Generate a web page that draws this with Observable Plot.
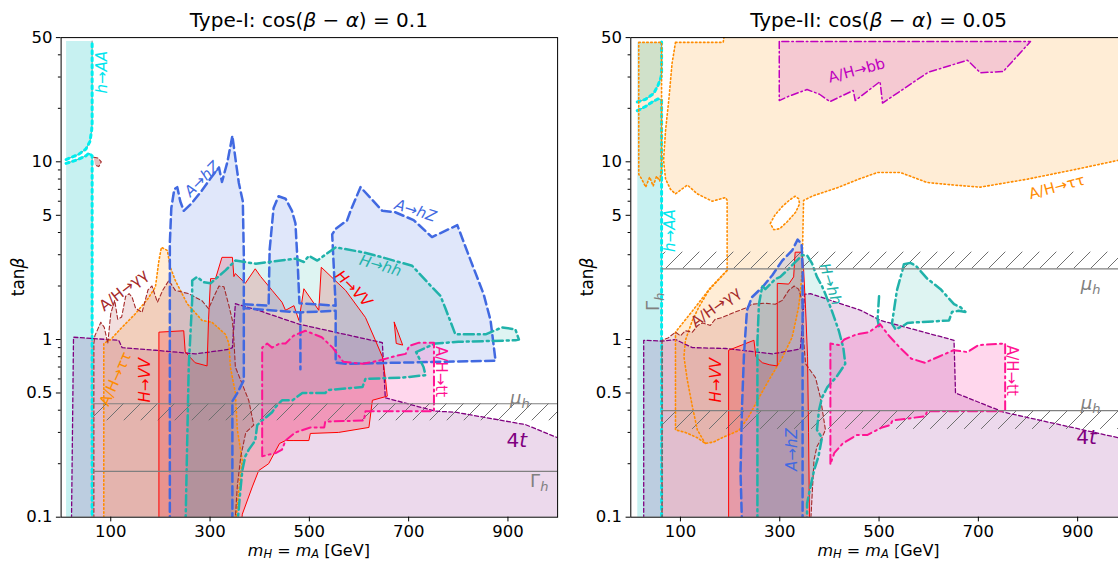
<!DOCTYPE html>
<html><head><meta charset="utf-8">
<script src="https://cdn.jsdelivr.net/npm/d3@7"></script>
<script src="https://cdn.jsdelivr.net/npm/@observablehq/plot@0.6"></script>
<style>
body{margin:0;background:#fff;}
#wrap{position:relative;width:1118px;height:563px;overflow:hidden;}
#wrap svg{position:absolute;top:0;}
</style></head><body><div id="wrap"></div><script>
const FONT = '"DejaVu Sans", sans-serif';
const X_TICKS = [100,300,500,700,900];
const Y_TICKS = [0.1,0.5,1,5,10,50];
const Y_MINOR = [0.2,0.3,0.4,0.6,0.7,0.8,0.9,2,3,4,6,7,8,9,20,30,40];

// ---------- Type-I ----------
const T1_HAA_LINE_UP = [[10,10.3],[35,11],[50,11.8],[58,13],[61.5,15],[62.5,16.5],[62.5,47.8]];
const T1_HAA_CORNER_UP = [[10,47.8]];
const T1_HAA_LINE_LO = [[10,9.8],[30,10.2],[50,10.8],[56,11.2],[62.5,10.8],[62.5,0.09]];
const T1_HAA_CORNER_LO = [[10,0.09]];
const T1_4T = [[21,0.09],[21,0.1],[25,1.03],[116,0.99],[123,0.90],[190,0.87],[271,0.83],[338,0.88],[345,0.9],[351,1.59],[400,1.45],[479,1.22],[647,0.96],[653,0.47],[754,0.395],[794,0.39],[935,0.332],[1000,0.28],[1010,0.275],[1010,0.09]];
const T1_TAUTAU = [[86,0.09],[86,0.95],[100,1.0],[120,1.15],[150,1.4],[175,1.7],[190,1.98],[197,2.78],[202,3.3],[214,3.17],[220,2.55],[230,2.15],[254,1.59],[284,1.28],[304,1.25],[331,1.07],[338,0.95],[341,0.70],[351,0.50],[355,0.31],[365,0.208],[361,0.17],[351,0.09]];
const T1_GAGA = [[66,0.09],[66,0.95],[68,1.05],[80,1.25],[87,1.17],[94,0.95],[100,1.4],[108,1.66],[114,1.3],[122,1.34],[130,1.75],[137,1.81],[143,1.73],[150,1.5],[163,1.42],[175,1.9],[183,2.0],[194,1.62],[205,1.9],[217,2.15],[230,1.89],[257,1.81],[284,1.65],[297,1.49],[310,1.8],[318,2.0],[328,1.98],[338,1.55],[345,1.28],[348,1.0],[351,0.70],[365,0.56],[378,0.454],[388,0.33],[372,0.30],[362,0.22],[355,0.15],[350,0.09]];
const T1_GAGA_BLOB = [[66,10.6],[74,10.5],[81,10.0],[76,9.4],[68,9.6]];
const T1_HVV = [[197,0.09],[197,1.1],[247,1.12],[250,0.85],[270,0.74],[294,0.71],[297,1.3],[301,2.2],[311,2.2],[324,2.9],[345,2.9],[348,2.26],[351,2.35],[371,2.07],[391,2.5],[402,2.26],[425,1.89],[445,1.62],[452,1.46],[469,1.55],[479,1.28],[489,1.93],[519,1.46],[524,2.55],[573,1.89],[613,1.33],[633,0.99],[647,0.80],[653,0.61],[657,0.48],[627,0.455],[620,0.32],[559,0.30],[502,0.296],[499,0.27],[469,0.27],[452,0.27],[440,0.26],[418,0.2],[398,0.183],[385,0.148],[365,0.104],[363,0.09]];
const T1_HVV_TRI = [[671,1.25],[675,0.95],[688,0.93],[671,1.25]];
const T1_AHZ_A = [[219,0.09],[219,3.5],[222,5.5],[228,7.0],[234,7.2],[240,6.0],[247,5.3],[262,5.8],[282,6.8],[300,8.0],[318,9.3],[324,7.7],[335,10],[345,14],[352,10],[358,7.6],[366,6.0],[368,3.0],[368,0.59],[355,0.5],[345,0.45],[345,0.09]];
const T1_AHZ_B = [[368,1.58],[418,1.55],[420,3.2],[428,5.5],[438,6.4],[452,6.2],[465,5.3],[472,4.5],[477,2.5],[480,1.6],[553,1.55],[548,3.0],[546,3.9],[553,4.2],[576,4.68],[583,5.3],[603,7.2],[647,5.3],[673,5.2],[710,4.7],[747,3.77],[798,4.4],[825,2.78],[851,1.8],[865,1.28],[875,0.76],[573,0.73],[553,0.74],[553,1.45],[482,1.42],[368,1.50]];
const T1_AHZ_C = [[482,1.42],[482,0.68]];
const T1_HHH = [[250.6,0.09],[257,0.7],[264,1.66],[264,2.15],[274,2.25],[287,2.1],[301,2.07],[331,2.45],[351,2.78],[392,2.67],[418,2.73],[472,2.85],[489,2.73],[499,2.96],[516,2.78],[539,3.1],[553,3.3],[607,3.1],[647,2.9],[707,2.6],[747,1.97],[764,1.76],[774,1.5],[794,1.07],[855,1.07],[888,1.17],[915,1.14],[922,1.0],[915,0.99],[800,0.97],[754,0.95],[715,0.85],[730,0.7],[734,0.63],[687,0.61],[613,0.60],[607,0.54],[539,0.52],[532,0.5],[486,0.5],[466,0.455],[445,0.455],[433,0.42],[425,0.39],[405,0.35],[395,0.33],[391,0.27],[378,0.24],[371,0.22],[365,0.183],[361,0.141],[355,0.09]];
const T1_TT = [[405,0.22],[405,0.90],[415,0.95],[425,0.9],[440,0.95],[452,0.95],[468,1.05],[492,1.12],[525,1.03],[547,0.90],[568,0.75],[607,0.73],[640,0.76],[675,0.81],[694,0.83],[701,0.92],[721,0.96],[751,0.96],[751,0.395],[613,0.395],[610,0.35],[532,0.345],[530,0.32],[502,0.32],[472,0.30],[452,0.27],[445,0.24],[433,0.23],[418,0.225],[405,0.22]];
const T1_MUH_LINE = [[65,0.435],[1010,0.435]];
const T1_MUH_BAND = [[65,1010,0.349,0.435]];
const T1_GAMMAH_LINE = [[65,0.181],[1010,0.181]];

// ---------- Type-II ----------
const T2_HAA_LINE_UP = [[13,21.7],[30,22.5],[46,24.2],[55,27],[61,30],[62,32],[62,47.3]];
const T2_HAA_CORNER_UP = [[13,47.3]];
const T2_HAA_LINE_LO = [[13,19.4],[30,20.5],[43,21.7],[55,22.6],[62,22.3],[62,0.09]];
const T2_HAA_CORNER_LO = [[13,0.09]];
const T2_TAU_STRIP = [[16,47],[62,47],[62,9],[58,7.8],[52,8.3],[45,7.3],[38,8.2],[30,7.2],[22,8.0],[16,8.5],[16,47]];
const T2_TAUTAU = [[90,47],[186,47],[190,55],[1010,55],[1010,10.6],[1000,10.5],[982,10.2],[899,9.1],[798,7.98],[704,7.2],[650,7.4],[597,7.65],[543,8.7],[496,8.7],[459,7.98],[419,7.2],[365,6.4],[348,6.06],[345,2.45],[342,1.89],[338,1.52],[325,1.03],[305,0.79],[278,0.59],[258,0.47],[238,0.37],[218,0.308],[184,0.28],[167,0.265],[150,0.26],[134,0.28],[110,0.30],[90,0.31],[90,1.1],[120,1.4],[160,1.95],[194,2.45],[194,6.06],[191,6.3],[164,6.0],[134,6.6],[114,7.4],[90,6.6],[80,7.0],[70,8.0],[66,10.2],[70,15],[77,23],[83,35.6],[90,47]];
const T2_TAU_INNER = [[194,2.45],[157,1.89],[137,1.52],[124,1.28],[110,0.99],[107,0.80],[114,0.588],[124,0.42],[134,0.31],[150,0.26]];
const T2_TAU_HOLE = [[281,4.5],[290,5.0],[305,5.6],[320,6.1],[331,6.4],[338,6.2],[340,5.8],[332,5.2],[315,4.6],[300,4.2],[288,4.15],[281,4.5]];
const T2_BB = [[299,47.5],[299,22.1],[320,23.5],[355,25.5],[380,24],[401,21.8],[448,25.2],[452,22.1],[502,28.3],[507,21.4],[599,31.9],[678,37.3],[704,31.7],[750,32.2],[805,47.5],[299,47.5]];
const T2_4T = [[26,0.09],[26,0.99],[63,0.98],[90,1.0],[124,0.90],[191,0.89],[224,0.87],[285,0.83],[338,0.88],[342,0.9],[350,1.8],[362,1.81],[463,1.46],[503,1.28],[651,0.99],[654,0.50],[751,0.39],[982,0.28],[1010,0.27],[1010,0.09]];
const T2_GAGA = [[63,0.09],[63,0.99],[75,1.02],[90,1.1],[100,1.05],[110,1.12],[124,1.1],[135,1.2],[144,1.24],[160,1.2],[170,1.3],[184,1.33],[211,1.43],[230,1.5],[244,1.58],[270,1.6],[291,1.58],[305,1.66],[318,1.89],[329,2.0],[338,1.92],[345,1.66],[348,1.0],[352,0.73],[372,0.61],[382,0.47],[392,0.31],[385,0.28],[375,0.25],[369,0.21],[362,0.09]];
const T2_HVV = [[197,0.09],[197,0.87],[248,0.99],[252,0.8],[265,0.74],[280,0.72],[295,0.71],[295,2.07],[318,2.05],[328,2.25],[331,3.1],[345,3.1],[348,2.5],[352,1.5],[356,0.8],[358,0.3],[360,0.09]];
const T2_AHZ = [[224,0.09],[221,0.18],[224,0.42],[228,0.83],[234,1.46],[244,1.73],[265,1.97],[285,2.3],[305,2.78],[325,3.17],[336,3.65],[344,3.45],[346,2.5],[346,0.09]];
const T2_HHH = [[255,0.09],[255,0.42],[255,0.97],[258,1.58],[265,2.0],[271,1.92],[291,2.19],[301,2.25],[318,2.5],[345,2.98],[355,2.98],[365,2.68],[375,2.25],[385,2.0],[392,1.8],[405,1.45],[419,1.12],[428,0.9],[432,0.73],[415,0.62],[396,0.54],[385,0.47],[379,0.40],[375,0.31],[385,0.28],[378,0.22],[369,0.183],[360,0.14],[355,0.119],[355,0.09]];
const T2_HHH_ISLAND = [[550,2.65],[563,2.7],[574,2.6],[597,2.2],[624,1.92],[651,1.58],[664,1.52],[674,1.43],[660,1.45],[647,1.43],[641,1.28],[557,1.24],[550,1.2],[533,1.14],[526,1.23],[529,1.4],[536,1.89],[547,2.45],[550,2.65]];
const T2_HHH_TAIL = [[500,1.75],[497,1.3],[500,1.18],[506,1.18]];
const T2_TT = [[402,0.2],[402,0.95],[419,0.93],[430,1.0],[455,1.07],[480,1.1],[502,1.22],[520,1.05],[542,0.90],[565,0.78],[592,0.74],[620,0.8],[650,0.87],[678,0.85],[700,0.93],[754,0.95],[754,0.395],[597,0.395],[593,0.37],[527,0.35],[523,0.33],[506,0.32],[476,0.29],[455,0.29],[427,0.26],[410,0.23],[405,0.21],[402,0.2]];
const T2_MUH_LO_LINE = [[62,0.398],[1010,0.398]];
const T2_MUH_LO_BAND = [[62,1010,0.312,0.398]];
const T2_MUH_HI_LINE = [[62,2.5],[1010,2.5]];
const T2_MUH_HI_BAND = [[62,1010,2.5,3.1]];

// labels
const T1_LABELS = [
  {x:83,y:31.9,text:"h→AA",color:"#00e5ee",rotate:-90,italic:true},
  {x:284,y:8.0,text:"A→hZ",color:"royalblue",rotate:-45,italic:true},
  {x:714,y:5.3,text:"A→hZ",color:"royalblue",rotate:18,italic:true},
  {x:643,y:2.6,text:"H→hh",color:"lightseagreen",rotate:16,italic:true},
  {x:589,y:1.93,text:"H→VV",color:"red",rotate:45,italic:true},
  {x:126,y:1.89,text:"A/H→γγ",color:"brown",rotate:-38,italic:false},
  {x:110,y:0.60,text:"A/H→ττ",color:"darkorange",rotate:-66,italic:false},
  {x:170,y:0.59,text:"H→VV",color:"red",rotate:-90,italic:true},
  {x:764,y:0.66,text:"A/H→tt",color:"deeppink",rotate:90,italic:false}
];
const T2_LABELS = [
  {x:80,y:4.1,text:"h→AA",color:"#00e5ee",rotate:-90,italic:true},
  {x:455,y:32.6,text:"A/H→bb",color:"#bf00bf",rotate:-15,italic:false},
  {x:858,y:7.2,text:"A/H→ττ",color:"darkorange",rotate:-15,italic:false},
  {x:171,y:1.52,text:"A/H→γγ",color:"brown",rotate:-36,italic:false},
  {x:171,y:0.59,text:"H→VV",color:"red",rotate:-90,italic:true},
  {x:325,y:0.24,text:"A→hZ",color:"royalblue",rotate:-90,italic:true},
  {x:402,y:2.05,text:"H→hh",color:"lightseagreen",rotate:72,italic:true},
  {x:768,y:0.67,text:"A/H→tt",color:"deeppink",rotate:90,italic:false}
];
const T1_SUBLABELS = [
  {x:925,y:0.47,parts:[{t:"μ",i:true},{t:"h",i:true,sub:true}],color:"gray",size:18,rotate:0},
  {x:964,y:0.16,parts:[{t:"Γ"},{t:"h",i:true,sub:true}],color:"gray",size:18,rotate:0},
  {x:919,y:0.27,parts:[{t:"4"},{t:"t",i:true}],color:"purple",size:20,rotate:0}
];
const T2_SUBLABELS = [
  {x:927,y:0.44,parts:[{t:"μ",i:true},{t:"h",i:true,sub:true}],color:"gray",size:18,rotate:0},
  {x:927,y:2.05,parts:[{t:"μ",i:true},{t:"h",i:true,sub:true}],color:"gray",size:18,rotate:0},
  {x:919,y:0.28,parts:[{t:"4"},{t:"t",i:true}],color:"purple",size:20,rotate:0},
  {x:46,y:1.62,parts:[{t:"Γ"},{t:"h",i:true,sub:true}],color:"gray",size:18,rotate:-90}
];

const CYAN="#00eeee", GRAY="#909090";
const T1 = {
  left:0, width:560, marginLeft:60.6, marginRight:2.9, hatchId:"hatchL",
  title:[{t:"Type-I: cos("},{t:"β",i:true},{t:" − "},{t:"α",i:true},{t:") = 0.1"}],
  fills:[
    {pts:T1_HAA_LINE_UP.concat(T1_HAA_CORNER_UP), color:"#00bfbf", op:0.22},
    {pts:T1_HAA_LINE_LO.concat(T1_HAA_CORNER_LO), color:"#00bfbf", op:0.22},
    {pts:T1_4T, color:"purple", op:0.15},
    {pts:T1_TAUTAU, color:"darkorange", op:0.16},
    {pts:T1_GAGA, color:"brown", op:0.15},
    {pts:T1_GAGA_BLOB, color:"brown", op:0.3},
    {pts:T1_HVV, color:"red", op:0.18},
    {pts:T1_HVV_TRI, color:"red", op:0.18},
    {pts:T1_AHZ_A, color:"royalblue", op:0.16},
    {pts:T1_AHZ_B, color:"royalblue", op:0.16},
    {pts:T1_HHH, color:"lightseagreen", op:0.15},
    {pts:T1_TT, color:"deeppink", op:0.17}
  ],
  hatches:[T1_MUH_BAND[0]],
  strokes:[
    {pts:T1_HAA_LINE_UP, color:GRAY, w:1},
    {pts:T1_HAA_LINE_LO, color:GRAY, w:1},
    {pts:T1_HAA_LINE_UP, color:CYAN, w:3, dash:"3,4"},
    {pts:T1_HAA_LINE_LO, color:CYAN, w:3, dash:"3,4"},
    {pts:T1_4T, color:"purple", w:1.3, dash:"4,2.5"},
    {pts:T1_TAUTAU, color:"darkorange", w:1.6, dash:"1.5,2.5"},
    {pts:T1_GAGA, color:"brown", w:1.1, dash:"4,2.5"},
    {pts:T1_GAGA_BLOB, color:"brown", w:1.1, dash:"4,2.5"},
    {pts:T1_HVV, color:"red", w:1},
    {pts:T1_HVV_TRI, color:"red", w:1},
    {pts:T1_AHZ_A, color:"royalblue", w:2.5, dash:"9,4.5"},
    {pts:T1_AHZ_B, color:"royalblue", w:2.5, dash:"9,4.5"},
    {pts:T1_AHZ_C, color:"royalblue", w:2.5, dash:"9,4.5"},
    {pts:T1_HHH, color:"lightseagreen", w:2.5, dash:"10,4,2,4"},
    {pts:T1_TT, color:"deeppink", w:2, dash:"9,4,2,4"},
    {pts:T1_MUH_LINE, color:"#808080", w:1.2},
    {pts:T1_GAMMAH_LINE, color:"#808080", w:1.2}
  ],
  labels:T1_LABELS, sublabels:T1_SUBLABELS
};
const T2 = {
  left:560, width:570, marginLeft:70.3, marginRight:3.2, hatchId:"hatchR",
  title:[{t:"Type-II: cos("},{t:"β",i:true},{t:" − "},{t:"α",i:true},{t:") = 0.05"}],
  fills:[
    {pts:T2_HAA_LINE_UP.concat(T2_HAA_CORNER_UP), color:"#00bfbf", op:0.22},
    {pts:T2_HAA_LINE_LO.concat(T2_HAA_CORNER_LO), color:"#00bfbf", op:0.22},
    {pts:T2_4T, color:"purple", op:0.15},
    {pts:T2_TAUTAU, color:"darkorange", op:0.16},
    {pts:T2_TAU_STRIP, color:"darkorange", op:0.16},
    {pts:T2_TAU_HOLE, color:"white", op:1},
    {pts:T2_GAGA, color:"brown", op:0.15},
    {pts:T2_HVV, color:"red", op:0.18},
    {pts:T2_AHZ, color:"royalblue", op:0.16},
    {pts:T2_HHH, color:"lightseagreen", op:0.15},
    {pts:T2_HHH_ISLAND, color:"lightseagreen", op:0.15},
    {pts:T2_TT, color:"deeppink", op:0.17},
    {pts:T2_BB, color:"#bf00bf", op:0.15}
  ],
  hatches:[T2_MUH_LO_BAND[0], T2_MUH_HI_BAND[0]],
  strokes:[
    {pts:T2_HAA_LINE_UP, color:GRAY, w:1},
    {pts:T2_HAA_LINE_LO, color:GRAY, w:1},
    {pts:T2_HAA_LINE_UP, color:CYAN, w:3, dash:"3,4"},
    {pts:T2_HAA_LINE_LO, color:CYAN, w:3, dash:"3,4"},
    {pts:T2_4T, color:"purple", w:1.3, dash:"4,2.5"},
    {pts:T2_TAUTAU, color:"darkorange", w:1.6, dash:"1.5,2.5"},
    {pts:T2_TAU_STRIP, color:"darkorange", w:1.6, dash:"1.5,2.5"},
    {pts:T2_TAU_INNER, color:"darkorange", w:1.6, dash:"1.5,2.5"},
    {pts:T2_TAU_HOLE, color:"darkorange", w:1.6, dash:"1.5,2.5"},
    {pts:T2_GAGA, color:"brown", w:1.1, dash:"4,2.5"},
    {pts:T2_HVV, color:"red", w:1},
    {pts:T2_AHZ, color:"royalblue", w:2.5, dash:"9,4.5"},
    {pts:T2_HHH, color:"lightseagreen", w:2.5, dash:"10,4,2,4"},
    {pts:T2_HHH_ISLAND, color:"lightseagreen", w:2.5, dash:"10,4,2,4"},
    {pts:T2_HHH_TAIL, color:"lightseagreen", w:2.5, dash:"10,4,2,4"},
    {pts:T2_TT, color:"deeppink", w:2, dash:"9,4,2,4"},
    {pts:T2_BB, color:"#bf00bf", w:1.5, dash:"7,3,1.5,3"},
    {pts:T2_MUH_LO_LINE, color:"#808080", w:1.2},
    {pts:T2_MUH_HI_LINE, color:"#808080", w:1.2}
  ],
  labels:T2_LABELS, sublabels:T2_SUBLABELS
};

function richText(svg, parts, x, y, size, color, rotate, anchor, subShift) {
  const t = d3.select(svg).append("text").attr("x", x).attr("y", y)
    .style("font-size", size + "px").style("font-family", FONT).attr("fill", color)
    .attr("text-anchor", anchor || "middle");
  if (rotate) t.attr("transform", `rotate(${rotate},${x},${y})`);
  let shift = 0;
  const sub = subShift == null ? 0.25 : subShift;
  for (const p of parts) {
    const ts = t.append("tspan").text(p.t);
    if (p.i) ts.style("font-style", "italic");
    const target = p.sub ? size * sub : 0;
    if (target !== shift) { ts.attr("dy", target - shift); shift = target; }
    if (p.sub) ts.style("font-size", (size * 0.72) + "px");
  }
  return t;
}

function buildPanel(cfg) {
  const X = d => d[0], Y = d => d[1];
  const marks = [];
  for (const r of cfg.fills) marks.push(Plot.line(r.pts, {x: X, y: Y, fill: r.color, fillOpacity: r.op, stroke: "none", clip: true}));
  for (const h of cfg.hatches) marks.push(Plot.rect([h], {x1: d => d[0], x2: d => d[1], y1: d => d[2], y2: d => d[3], fill: `url(#${cfg.hatchId})`, clip: true}));
  for (const s of cfg.strokes) marks.push(Plot.line(s.pts, {x: X, y: Y, stroke: s.color, strokeWidth: s.w, strokeDasharray: s.dash || null, strokeLinejoin: "round", clip: true}));
  for (const l of cfg.labels) marks.push(Plot.text([l], {x: "x", y: "y", text: "text", fill: l.color, rotate: l.rotate, fontSize: 15, fontFamily: FONT, fontStyle: l.italic ? "italic" : "normal"}));
  marks.push(Plot.axisX(X_TICKS, {tickSize: 4.7, tickPadding: 3, fontSize: 16.5, tickFormat: d => String(d), label: null}));
  marks.push(Plot.axisY(Y_TICKS, {tickSize: 4.7, tickPadding: 4, fontSize: 16.5, tickFormat: d => String(d), label: null}));
  marks.push(Plot.axisY(Y_MINOR, {tickSize: 2.7, tickFormat: () => "", label: null}));
  marks.push(Plot.frame({stroke: "black", strokeWidth: 1}));
  const svg = Plot.plot({
    width: cfg.width, height: 563,
    marginLeft: cfg.marginLeft, marginRight: cfg.marginRight, marginTop: 37.1, marginBottom: 46.3,
    x: {domain: [0, 1000]},
    y: {type: "log", domain: [0.1, 50]},
    style: {fontFamily: FONT, fontSize: "16.5px", color: "black", background: "transparent", maxWidth: "none", overflow: "visible"},
    marks
  });
  const ns = "http://www.w3.org/2000/svg";
  const defs = document.createElementNS(ns, "defs");
  const pat = document.createElementNS(ns, "pattern");
  pat.setAttribute("id", cfg.hatchId); pat.setAttribute("patternUnits", "userSpaceOnUse");
  pat.setAttribute("width", "17"); pat.setAttribute("height", "17");
  const p = document.createElementNS(ns, "path");
  p.setAttribute("d", "M0,17 L17,0 M-2,2 L2,-2 M15,19 L19,15");
  p.setAttribute("stroke", "#707070"); p.setAttribute("stroke-width", "1"); p.setAttribute("fill", "none");
  pat.appendChild(p); defs.appendChild(pat); svg.insertBefore(defs, svg.firstChild);

  const sx = svg.scale("x"), sy = svg.scale("y");
  for (const s of cfg.sublabels) {
    const px = sx.apply(s.x), py = sy.apply(s.y);
    if (s.rotate) richText(svg, s.parts, px + 0.35 * s.size, py, s.size, s.color, s.rotate);
    else richText(svg, s.parts, px, py + 0.35 * s.size, s.size, s.color, 0);
  }
  const cx = (cfg.marginLeft + sx.apply(1000)) / 2;
  richText(svg, cfg.title, cx, 27, 20, "black", 0);
  richText(svg, [{t:"m",i:true},{t:"H",i:true,sub:true},{t:" = "},{t:"m",i:true},{t:"A",i:true,sub:true},{t:" [GeV]"}], cx, 555.5, 16, "black", 0, "middle", 0.18);
  const ly = (37.1 + 516.7) / 2;
  const lx = cfg.marginLeft - 37;
  richText(svg, [{t:"tan"},{t:"β",i:true}], lx, ly, 17, "black", -90);
  svg.style.left = cfg.left + "px";
  return svg;
}

const wrap = document.getElementById("wrap");
wrap.appendChild(buildPanel(T1));
wrap.appendChild(buildPanel(T2));
</script></body></html>
